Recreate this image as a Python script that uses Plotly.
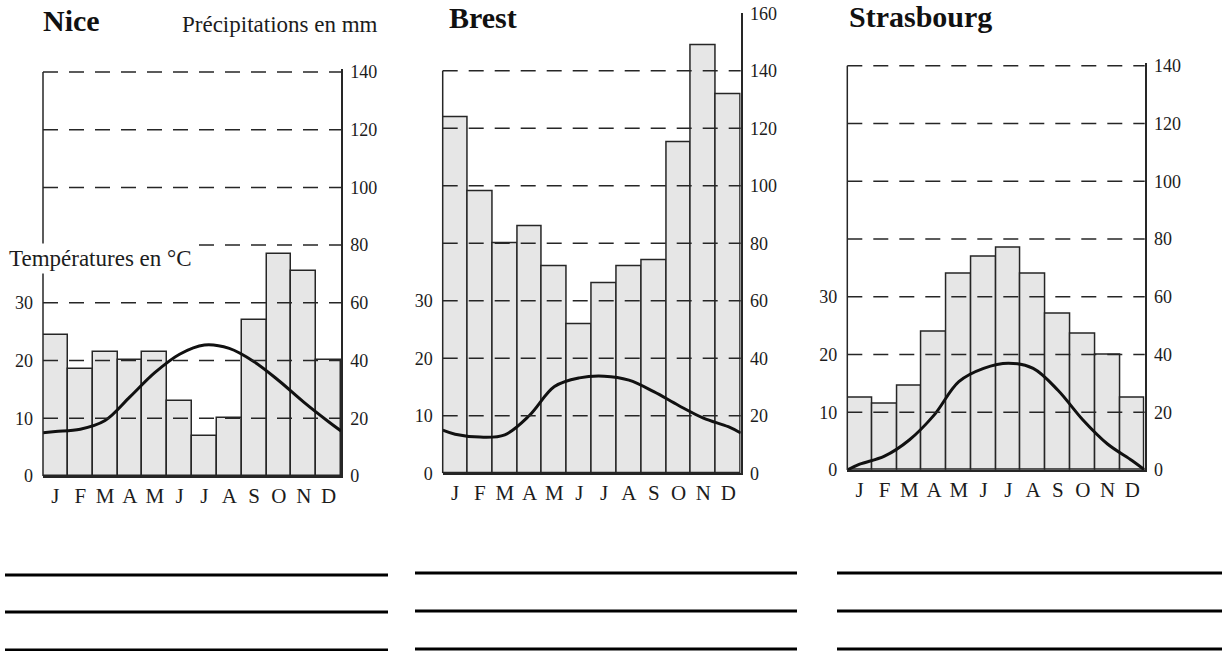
import plotly.graph_objects as go

months = ["J", "F", "M", "A", "M", "J", "J", "A", "S", "O", "N", "D"]

nice_precip = [49, 37, 43, 40, 43, 26, 14, 20, 54, 77, 71, 40]
nice_temp = [7.7, 8.1, 9.6, 13.7, 17.9, 21.1, 22.7, 22.1, 19.8, 16.5, 12.8, 9.4]
nice_temp_ends = [7.5, 7.8]

brest_precip = [124, 98, 80, 86, 72, 52, 66, 72, 74, 115, 149, 132]
brest_temp = [6.8, 6.3, 6.7, 10.1, 15.1, 16.6, 16.9, 16.2, 14.2, 11.8, 9.6, 8.1]
brest_temp_ends = [7.5, 7.0]

stras_precip = [25, 23, 29, 48, 68, 74, 77, 68, 54, 47, 40, 25]
stras_temp = [1.0, 2.4, 5.2, 9.5, 15.3, 17.6, 18.5, 17.6, 13.8, 8.7, 4.5, 1.6]
stras_temp_ends = [0.0, 0.0]

precip_ticks_140 = [0, 20, 40, 60, 80, 100, 120, 140]
precip_ticks_160 = [0, 20, 40, 60, 80, 100, 120, 140, 160]
temp_ticks = [0, 10, 20, 30]
grid_vals = [20, 40, 60, 80, 100, 120, 140]

FONT = "Liberation Serif"
INK = "#1c1c1c"
W, H = 1228, 651

# px/mm scale and pixel positions of each diagram frame
cities = [
    dict(name="Nice", precip=nice_precip, temp=nice_temp, ends=nice_temp_ends,
         top=141, ticks=precip_ticks_140, xd=(43, 341), y0=476, pxmm=2.886,
         title_xy=(41, 21)),
    dict(name="Brest", precip=brest_precip, temp=brest_temp, ends=brest_temp_ends,
         top=160, ticks=precip_ticks_160, xd=(442.7, 740.7), y0=473.3, pxmm=2.875,
         title_xy=(447, 18)),
    dict(name="Strasbourg", precip=stras_precip, temp=stras_temp, ends=stras_temp_ends,
         top=141, ticks=precip_ticks_140, xd=(847.3, 1144.7), y0=470, pxmm=2.888,
         title_xy=(847, 16)),
]

fig = go.Figure()
layout = {}
shapes = []
annotations = []

for i, c in enumerate(cities):
    n = i + 1
    xa = "x" if n == 1 else f"x{n}"
    xkey = "xaxis" if n == 1 else f"xaxis{n}"
    yp_n = 2 * i + 1
    yt_n = 2 * i + 2
    yp = "y" if yp_n == 1 else f"y{yp_n}"
    yt = f"y{yt_n}"
    ypkey = "yaxis" if yp_n == 1 else f"yaxis{yp_n}"
    ytkey = f"yaxis{yt_n}"

    ytop_px = c["y0"] - c["top"] * c["pxmm"]
    xdom = [c["xd"][0] / W, c["xd"][1] / W]
    ydom = [1 - c["y0"] / H, 1 - ytop_px / H]

    fig.add_trace(go.Bar(
        x=list(range(12)), y=c["precip"], width=1,
        marker=dict(color="#e6e6e6", line=dict(color="#262626", width=1.5)),
        xaxis=xa, yaxis=yp, showlegend=False, hoverinfo="skip"))

    tx = [-0.5] + list(range(12)) + [11.5]
    ty = [c["ends"][0]] + c["temp"] + [c["ends"][1]]
    fig.add_trace(go.Scatter(
        x=tx, y=ty, mode="lines",
        line=dict(color="#111111", width=3, shape="spline", smoothing=1.0),
        xaxis=xa, yaxis=yt, showlegend=False, hoverinfo="skip"))

    layout[xkey] = dict(
        domain=xdom, anchor=yp, range=[-0.5, 11.5], automargin=False,
        tickmode="array", tickvals=list(range(12)), ticktext=months,
        showgrid=False, zeroline=False, showline=True, linecolor="#262626",
        linewidth=1.5, ticks="", ticklabelstandoff=0,
        tickfont=dict(family=FONT, size=21, color=INK), fixedrange=True)
    layout[ypkey] = dict(
        domain=ydom, anchor=xa, side="right", range=[0, c["top"]], automargin=False,
        tickmode="array", tickvals=c["ticks"], ticktext=[str(v) for v in c["ticks"]],
        showgrid=False, zeroline=False, showline=True, linecolor="#262626",
        linewidth=1.5, ticks="", ticklabelstandoff=4,
        tickfont=dict(family=FONT, size=18, color=INK), fixedrange=True)
    layout[ytkey] = dict(
        domain=ydom, anchor=xa, overlaying=yp, side="left", range=[0, c["top"] / 2],
        automargin=False,
        tickmode="array", tickvals=temp_ticks, ticktext=[str(v) for v in temp_ticks],
        showgrid=False, zeroline=False, showline=False, ticks="",
        ticklabelstandoff=9,
        tickfont=dict(family=FONT, size=18, color=INK), fixedrange=True)

    for v in grid_vals:
        shapes.append(dict(type="line", xref=f"{xa} domain", x0=0, x1=1,
                           yref=yp, y0=v, y1=v, layer="above",
                           line=dict(color="#262626", width=1.5, dash="15px,11px")))
    shapes.append(dict(type="line", xref=f"{xa} domain", x0=0, x1=0,
                       yref=yp, y0=0, y1=140, layer="above",
                       line=dict(color="#262626", width=1.5)))

    annotations.append(dict(
        text=f"<b>{c['name']}</b>", xref="paper", yref="paper",
        x=c["title_xy"][0] / W, y=1 - c["title_xy"][1] / H,
        xanchor="left", yanchor="middle", showarrow=False,
        font=dict(family=FONT, size=30, color="#111111")))

annotations.append(dict(
    text="Précipitations en mm", xref="paper", yref="paper",
    x=380 / W, y=1 - 25 / H, xanchor="right", yanchor="middle", showarrow=False,
    font=dict(family=FONT, size=23, color=INK)))
annotations.append(dict(
    text="Températures en °C", xref="paper", yref="paper",
    x=6 / W, y=1 - 258 / H, xanchor="left", yanchor="middle", showarrow=False,
    bgcolor="white", borderpad=2,
    font=dict(family=FONT, size=23, color=INK)))

# answer lines below the diagrams
line_rows = [(5, 388, [575, 612, 650]), (415, 797, [573, 611, 649]), (837, 1222, [573, 611, 649])]
for x0, x1, ys in line_rows:
    for yy in ys:
        shapes.append(dict(type="line", xref="paper", yref="paper",
                           x0=x0 / W, x1=x1 / W, y0=1 - yy / H, y1=1 - yy / H,
                           line=dict(color="black", width=3)))

fig.update_layout(
    width=W, height=H, margin=dict(l=0, r=0, t=0, b=0, autoexpand=False),
    paper_bgcolor="white", plot_bgcolor="rgba(0,0,0,0)",
    bargap=0, showlegend=False, shapes=shapes, annotations=annotations,
    **layout)

fig.write_html(
    "out.html",
    config={"displayModeBar": False, "responsive": False},
    post_script="document.body.style.margin='0';document.body.style.overflow='hidden';",
)
